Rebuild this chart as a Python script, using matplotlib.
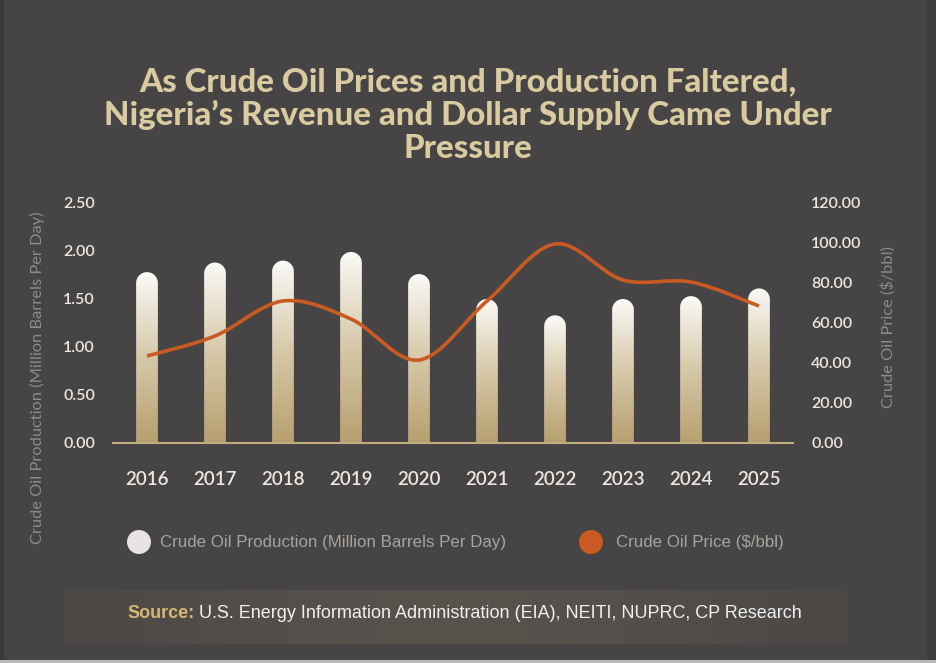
import numpy as np
import matplotlib
matplotlib.use("Agg")
import matplotlib.pyplot as plt
from matplotlib.path import Path
from matplotlib.patches import PathPatch, Circle, FancyBboxPatch, Rectangle
from matplotlib.colors import LinearSegmentedColormap

years = ["2016", "2017", "2018", "2019", "2020", "2021", "2022", "2023", "2024", "2025"]
production = [1.78, 1.88, 1.90, 1.99, 1.76, 1.50, 1.33, 1.50, 1.53, 1.61]
price = [43.5, 53.5, 71.0, 62.0, 41.5, 71.0, 99.5, 81.5, 80.5, 68.5]
left_ticks = [0.0, 0.5, 1.0, 1.5, 2.0, 2.5]
right_ticks = [0, 20, 40, 60, 80, 100, 120]

BG = "#464444"
TITLE_C = "#d9caa0"
TICK_C = "#ece8e0"
LABEL_C = "#8e8b86"
LEG_C = "#a7a49e"
ORANGE = "#c95b22"
TAN = "#c2ad82"

W, H = 936, 663
fig = plt.figure(figsize=(W / 100, H / 100), dpi=100, facecolor=BG)

# background overlay axes (pixel coordinates, y down)
bg = fig.add_axes([0, 0, 1, 1], zorder=0)
bg.set_xlim(0, W)
bg.set_ylim(H, 0)
bg.axis("off")
bg.add_patch(Rectangle((0, 0), 4, H, color="#3a3838", lw=0))
bg.add_patch(Rectangle((927, 0), 9, H, color="#3d3b3b", lw=0))
bg.add_patch(Rectangle((0, 660), W, 3, color="#b9b9b9", lw=0))

# source box with soft horizontal gradient
grad = np.abs(np.linspace(-1, 1, 256))
grad = 1 - grad ** 1.5
cm_box = LinearSegmentedColormap.from_list("box", ["#4a4745", "#57524c"])
box = FancyBboxPatch((63, 590), 785, 54, boxstyle="round,pad=0,rounding_size=4",
                     fc="none", ec="none")
bg.add_patch(box)
im = bg.imshow(grad[None, :], cmap=cm_box, extent=[63, 848, 644, 590], aspect="auto",
               zorder=1)
im.set_clip_path(box)
bg.set_xlim(0, W)
bg.set_ylim(H, 0)

sans = ["Liberation Sans", "DejaVu Sans"]
lato = ["Lato", "DejaVu Sans"]

fig.canvas.draw()
renderer = fig.canvas.get_renderer()
src_fs = 13.0
t1 = bg.text(127, 614, "Source:", color="#d6b876", fontsize=src_fs, fontweight="bold",
             family=sans, va="center", ha="left", zorder=3)
e1 = t1.get_window_extent(renderer)
t2 = bg.text(127 + e1.width + 5, 614,
             "U.S. Energy Information Administration (EIA), NEITI, NUPRC, CP Research",
             color="#f0f0f0", fontsize=src_fs, family=sans, va="center", ha="left", zorder=3)

# legend
bg.add_patch(Circle((139, 542), 12, color="#e9e4e4", lw=0, zorder=3))
bg.text(160, 542, "Crude Oil Production (Million Barrels Per Day)", color=LEG_C,
        fontsize=12.2, family=sans, va="center", ha="left", zorder=3)
bg.add_patch(Circle((591, 542), 12, color=ORANGE, lw=0, zorder=3))
bg.text(616, 542, "Crude Oil Price ($/bbl)", color=LEG_C,
        fontsize=12.2, family=sans, va="center", ha="left", zorder=3)

# title
bg.text(468, 115, "As Crude Oil Prices and Production Faltered,\nNigeria\u2019s Revenue and Dollar Supply Came Under\nPressure",
        color=TITLE_C, fontsize=23.8, fontweight="black", family=lato,
        ha="center", va="center", linespacing=1.17, zorder=3)

# axis labels
bg.text(37, 378, "Crude Oil Production (Million Barrels Per Day)", color=LABEL_C,
        fontsize=11.8, family=lato, rotation=90, ha="center", va="center", zorder=3)
bg.text(888, 327, "Crude Oil Price ($/bbl)", color=LABEL_C,
        fontsize=11.8, family=lato, rotation=90, ha="center", va="center", zorder=3)

# main axes
x0, x1, yb, yt = 113, 793, 443, 203
ax = fig.add_axes([x0 / W, 1 - yb / H, (x1 - x0) / W, (yb - yt) / H], zorder=2)
ax.patch.set_alpha(0)
x = np.arange(len(years))
ax.set_xlim(-0.5, len(years) - 0.5)
ax.set_ylim(0, 2.5)
for s in ["top", "right", "left"]:
    ax.spines[s].set_visible(False)
ax.spines["bottom"].set_color(TAN)
ax.spines["bottom"].set_linewidth(1.5)
ax.spines["bottom"].set_zorder(5)
ax.set_yticks(left_ticks)
ax.set_yticklabels([f"{v:.2f}" for v in left_ticks])
ax.set_xticks(x)
ax.set_xticklabels(years)
ax.tick_params(axis="y", length=0, pad=13, labelsize=11.5, labelcolor=TICK_C)
ax.tick_params(axis="x", length=0, pad=20, labelsize=13.5, labelcolor=TICK_C)
for lab in ax.get_xticklabels() + ax.get_yticklabels():
    lab.set_family(lato)
    lab.set_fontweight("semibold")

# gradient bars with rounded tops
bw = 0.32
bars = ax.bar(x, production, width=bw, color="none", lw=0)
fig.canvas.draw()
px_x = ax.transData.transform((1, 0))[0] - ax.transData.transform((0, 0))[0]
px_y = ax.transData.transform((0, 1))[1] - ax.transData.transform((0, 0))[1]
r_px = bw * px_x / 2
r_y = r_px / px_y
cm_bar = LinearSegmentedColormap.from_list("bar", ["#b7a070", "#d6c8a8", "#fbfaf7"])
gv = np.linspace(0, 1, 256)[:, None]
for b in bars:
    bx = b.get_x()
    h = b.get_height()
    cx = bx + bw / 2
    th = np.linspace(0, np.pi, 40)
    arc = np.column_stack([cx + (bw / 2) * np.cos(th), (h - r_y) + r_y * np.sin(th)])
    verts = np.vstack([[bx, 0], [bx + bw, 0], arc, [bx, 0]])
    codes = [Path.MOVETO] + [Path.LINETO] * (len(verts) - 2) + [Path.CLOSEPOLY]
    pp = PathPatch(Path(verts, codes), fc="none", ec="none", transform=ax.transData)
    ax.add_patch(pp)
    img = ax.imshow(gv, cmap=cm_bar, extent=[bx, bx + bw, 0, h], origin="lower",
                    aspect="auto", zorder=2)
    img.set_clip_path(pp)
ax.set_xlim(-0.5, len(years) - 0.5)
ax.set_ylim(0, 2.5)

# price line on right axis (smoothed cubic Bezier through the data points)
ax2 = ax.twinx()
ax2.set_ylim(0, 120)
for s in ["top", "right", "left", "bottom"]:
    ax2.spines[s].set_visible(False)
ax2.set_yticks(right_ticks)
ax2.set_yticklabels([f"{v:.2f}" for v in right_ticks])
ax2.tick_params(axis="y", length=0, pad=13, labelsize=11.5, labelcolor=TICK_C)
for lab in ax2.get_yticklabels():
    lab.set_family(lato)
    lab.set_fontweight("semibold")

P = np.column_stack([x.astype(float), np.array(price, dtype=float)])
n = len(P)
verts = [P[0]]
codes = [Path.MOVETO]
t = 1 / 6
for i in range(n - 1):
    p0 = P[max(i - 1, 0)]
    p1 = P[i]
    p2 = P[i + 1]
    p3 = P[min(i + 2, n - 1)]
    c1 = p1 + (p2 - p0) * t
    c2 = p2 - (p3 - p1) * t
    verts += [c1, c2, p2]
    codes += [Path.CURVE4] * 3
ax2.add_patch(PathPatch(Path(np.array(verts), codes), fc="none", ec=ORANGE, lw=2.6,
                        capstyle="butt", zorder=4))
ax2.set_xlim(-0.5, len(years) - 0.5)

fig.savefig("out.png", dpi=100, facecolor=BG)
